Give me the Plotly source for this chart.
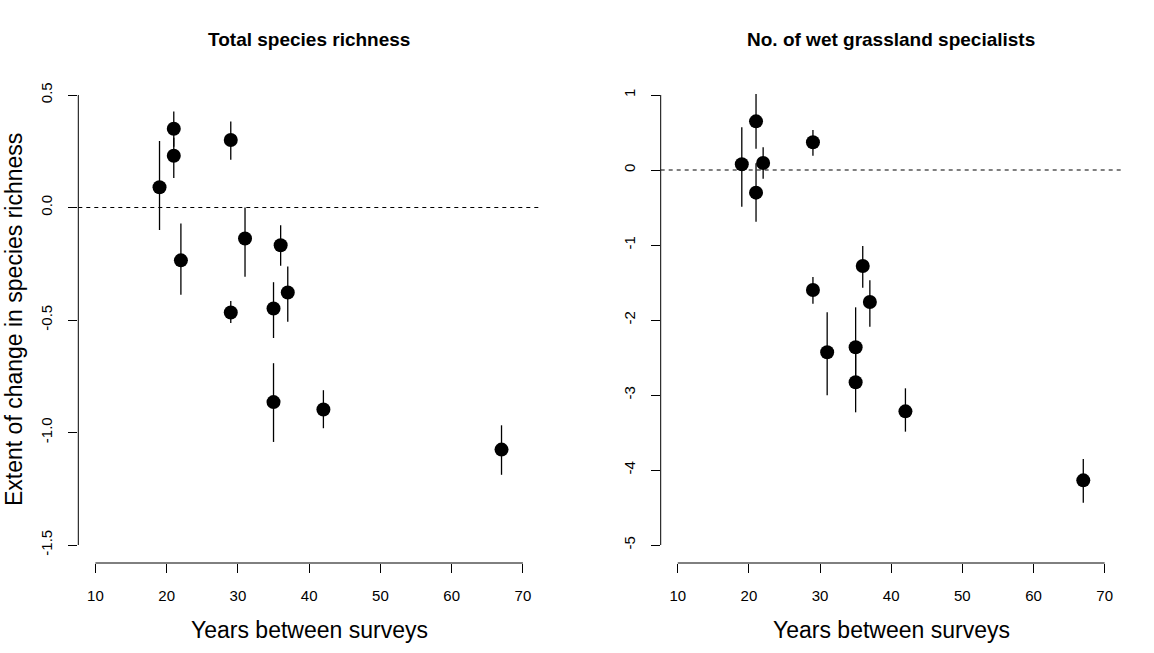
import plotly.graph_objects as go

W, H = 1154, 653

# ---- data ----
years = [19, 21, 21, 22, 29, 29, 31, 35, 35, 36, 37, 42, 67]

total_val = [0.09, 0.35, 0.23, -0.235, 0.30, -0.467, -0.138, -0.449, -0.865, -0.168, -0.378, -0.898, -1.076]
total_hi = [0.295, 0.427, 0.31, -0.071, 0.382, -0.416, 0.0, -0.332, -0.692, -0.079, -0.262, -0.812, -0.968]
total_lo = [-0.10, 0.27, 0.131, -0.388, 0.212, -0.513, -0.308, -0.58, -1.042, -0.259, -0.508, -0.981, -1.188]

wet_val = [0.076, 0.649, -0.302, 0.093, 0.369, -1.60, -2.431, -2.364, -2.831, -1.28, -1.76, -3.218, -4.138]
wet_hi = [0.569, 1.013, 0.089, 0.302, 0.533, -1.427, -1.898, -1.831, -2.40, -1.013, -1.471, -2.911, -3.853]
wet_lo = [-0.489, 0.284, -0.689, -0.116, 0.191, -1.782, -3.004, -2.87, -3.231, -1.569, -2.089, -3.489, -4.436]

x_ticks = [10, 20, 30, 40, 50, 60, 70]
x_ticktext = ["10", "20", "30", "40", "50", "60", "70"]
y1_ticks = [-1.5, -1.0, -0.5, 0.0, 0.5]
y1_ticktext = ["-1.5", "-1.0", "-0.5", "0.0", "0.5"]
y2_ticks = [-5, -4, -3, -2, -1, 0, 1]
y2_ticktext = ["-5", "-4", "-3", "-2", "-1", "0", "1"]

title1 = "Total species richness"
title2 = "No. of wet grassland specialists"
xlab = "Years between surveys"
ylab = "Extent of change in species richness"

FONT = "Liberation Sans, Arial, sans-serif"

# ---- layout geometry (window pixels) ----
top, bottom = 77, 563
l1, r1 = 78.3, 540
l2, r2 = 660.7, 1121.7

def px(x):
    return x / W

def py(y):
    return 1 - y / H

fig = go.Figure()

def add_panel(vals, hi, lo, xa, ya):
    plus = [h - v for h, v in zip(hi, vals)]
    minus = [v - l for v, l in zip(vals, lo)]
    fig.add_trace(go.Scatter(
        x=years, y=vals, mode="markers", xaxis=xa, yaxis=ya,
        marker=dict(color="black", size=14, symbol="circle"),
        error_y=dict(type="data", array=plus, arrayminus=minus,
                     symmetric=False, width=0, thickness=1.3, color="black"),
        showlegend=False, hoverinfo="skip",
    ))

add_panel(total_val, total_hi, total_lo, "x", "y")
add_panel(wet_val, wet_hi, wet_lo, "x2", "y2")

axis_common = dict(
    showgrid=False, zeroline=False, showline=False,
    ticks="outside", ticklen=9, tickwidth=1, tickcolor="black",
    tickfont=dict(family=FONT, size=15, color="black"),
    ticklabelstandoff=10, fixedrange=True,
)

fig.update_layout(
    width=W, height=H,
    margin=dict(l=0, r=0, t=0, b=0),
    paper_bgcolor="white", plot_bgcolor="white",
    xaxis=dict(domain=[px(l1), px(r1)], range=[7.6, 72.4], anchor="y",
               tickvals=x_ticks, ticktext=x_ticktext, **axis_common),
    yaxis=dict(domain=[py(bottom), py(top)], range=[-1.58, 0.58], anchor="x",
               tickvals=y1_ticks, ticktext=y1_ticktext, tickangle=-90, **axis_common),
    xaxis2=dict(domain=[px(l2), px(r2)], range=[7.6, 72.4], anchor="y2",
                tickvals=x_ticks, ticktext=x_ticktext, **axis_common),
    yaxis2=dict(domain=[py(bottom), py(top)], range=[-5.24, 1.24], anchor="x2",
                tickvals=y2_ticks, ticktext=y2_ticktext, tickangle=-90, **axis_common),
)

line = dict(color="black", width=1)
shapes = []
for xr, yr, ylo, yhi in [("x", "y", -1.5, 0.5), ("x2", "y2", -5, 1)]:
    # R-style axis lines spanning first to last tick
    shapes.append(dict(type="line", xref=xr, yref=yr + " domain",
                       x0=10, x1=70, y0=0, y1=0, line=line))
    shapes.append(dict(type="line", xref=xr + " domain", yref=yr,
                       x0=0, x1=0, y0=ylo, y1=yhi, line=line))
    # dashed reference line at zero
    shapes.append(dict(type="line", xref=xr + " domain", yref=yr,
                       x0=0, x1=1, y0=0, y1=0,
                       line=dict(color="black", width=1, dash="4px,4px")))
fig.update_layout(shapes=shapes)

ann = []
for cx, t in [((l1 + r1) / 2, title1), ((l2 + r2) / 2, title2)]:
    ann.append(dict(text="<b>%s</b>" % t, x=px(cx), y=py(40), xref="paper", yref="paper",
                    xanchor="center", yanchor="middle", showarrow=False,
                    font=dict(family=FONT, size=19, color="black")))
    ann.append(dict(text=xlab, x=px(cx), y=py(630), xref="paper", yref="paper",
                    xanchor="center", yanchor="middle", showarrow=False,
                    font=dict(family=FONT, size=23, color="black")))
ann.append(dict(text=ylab, x=px(14), y=py((top + bottom) / 2), xref="paper", yref="paper",
                xanchor="center", yanchor="middle", showarrow=False, textangle=-90,
                font=dict(family=FONT, size=23, color="black")))
fig.update_layout(annotations=ann)

fig.write_html(
    "out.html",
    config={"displayModeBar": False, "staticPlot": True},
    post_script="document.body.style.margin='0px';document.body.style.overflow='hidden';",
)
